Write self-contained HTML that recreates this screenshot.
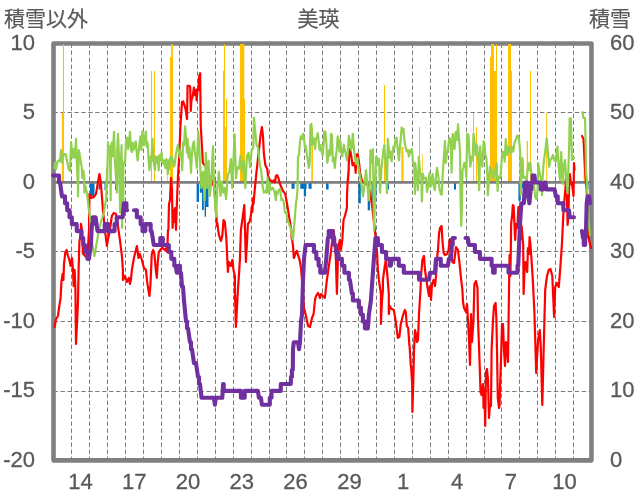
<!DOCTYPE html>
<html><head><meta charset="utf-8"><style>
html,body{margin:0;padding:0;background:#fff;}
body{width:636px;height:501px;position:relative;overflow:hidden;font-family:"Liberation Sans","Noto Sans CJK JP",sans-serif;color:#595959;}
svg{position:absolute;left:0;top:0;}
.t{position:absolute;white-space:nowrap;line-height:1;}
.yl,.yr,.xl{-webkit-text-stroke:0.3px #595959;}
.t{-webkit-text-stroke:0.2px #595959;}
.yl{position:absolute;right:601px;font-size:22px;line-height:24px;text-align:right;}
.yr{position:absolute;left:610px;font-size:22px;line-height:24px;}
.xl{position:absolute;top:469.7px;width:40px;text-align:center;font-size:22px;line-height:24px;}
</style></head><body>
<svg width="636" height="501" viewBox="0 0 636 501">
<g stroke="#7a7a7a" stroke-width="1" fill="none"><line x1="53.5" y1="112.5" x2="591.45" y2="112.5" stroke-dasharray="4.4 2.55"/><line x1="53.5" y1="251.5" x2="591.45" y2="251.5" stroke-dasharray="4.4 2.55"/><line x1="53.5" y1="321.5" x2="591.45" y2="321.5" stroke-dasharray="4.4 2.55"/><line x1="53.5" y1="391.5" x2="591.45" y2="391.5" stroke-dasharray="4.4 2.55"/><line x1="71.5" y1="43.5" x2="71.5" y2="460.35" stroke-dasharray="4.4 2.6"/><line x1="89.5" y1="43.5" x2="89.5" y2="460.35" stroke-dasharray="4.4 2.6"/><line x1="107.5" y1="43.5" x2="107.5" y2="460.35" stroke-dasharray="4.4 2.6"/><line x1="125.5" y1="43.5" x2="125.5" y2="460.35" stroke-dasharray="4.4 2.6"/><line x1="143.5" y1="43.5" x2="143.5" y2="460.35" stroke-dasharray="4.4 2.6"/><line x1="161.5" y1="43.5" x2="161.5" y2="460.35" stroke-dasharray="4.4 2.6"/><line x1="179.5" y1="43.5" x2="179.5" y2="460.35" stroke-dasharray="4.4 2.6"/><line x1="197.5" y1="43.5" x2="197.5" y2="460.35" stroke-dasharray="4.4 2.6"/><line x1="215.5" y1="43.5" x2="215.5" y2="460.35" stroke-dasharray="4.4 2.6"/><line x1="233.5" y1="43.5" x2="233.5" y2="460.35" stroke-dasharray="4.4 2.6"/><line x1="251.5" y1="43.5" x2="251.5" y2="460.35" stroke-dasharray="4.4 2.6"/><line x1="269.5" y1="43.5" x2="269.5" y2="460.35" stroke-dasharray="4.4 2.6"/><line x1="286.5" y1="43.5" x2="286.5" y2="460.35" stroke-dasharray="4.4 2.6"/><line x1="304.5" y1="43.5" x2="304.5" y2="460.35" stroke-dasharray="4.4 2.6"/><line x1="322.5" y1="43.5" x2="322.5" y2="460.35" stroke-dasharray="4.4 2.6"/><line x1="340.5" y1="43.5" x2="340.5" y2="460.35" stroke-dasharray="4.4 2.6"/><line x1="358.5" y1="43.5" x2="358.5" y2="460.35" stroke-dasharray="4.4 2.6"/><line x1="376.5" y1="43.5" x2="376.5" y2="460.35" stroke-dasharray="4.4 2.6"/><line x1="394.5" y1="43.5" x2="394.5" y2="460.35" stroke-dasharray="4.4 2.6"/><line x1="412.5" y1="43.5" x2="412.5" y2="460.35" stroke-dasharray="4.4 2.6"/><line x1="430.5" y1="43.5" x2="430.5" y2="460.35" stroke-dasharray="4.4 2.6"/><line x1="448.5" y1="43.5" x2="448.5" y2="460.35" stroke-dasharray="4.4 2.6"/><line x1="466.5" y1="43.5" x2="466.5" y2="460.35" stroke-dasharray="4.4 2.6"/><line x1="484.5" y1="43.5" x2="484.5" y2="460.35" stroke-dasharray="4.4 2.6"/><line x1="501.5" y1="43.5" x2="501.5" y2="460.35" stroke-dasharray="4.4 2.6"/><line x1="519.5" y1="43.5" x2="519.5" y2="460.35" stroke-dasharray="4.4 2.6"/><line x1="537.5" y1="43.5" x2="537.5" y2="460.35" stroke-dasharray="4.4 2.6"/><line x1="555.5" y1="43.5" x2="555.5" y2="460.35" stroke-dasharray="4.4 2.6"/><line x1="573.5" y1="43.5" x2="573.5" y2="460.35" stroke-dasharray="4.4 2.6"/></g>
<rect x="53.5" y="43.5" width="537.95" height="416.85" fill="none" stroke="#808080" stroke-width="4.6" stroke-linejoin="round"/>
<g fill="#FFC000"><rect x="62.9" y="44.0" width="1.1" height="138.4"/><rect x="61.9" y="112.7" width="2.1" height="69.7"/><rect x="151.0" y="71.0" width="1.0" height="111.4"/><rect x="154.0" y="71.0" width="1.0" height="111.4"/><rect x="171.1" y="44.0" width="1.8" height="138.4"/><rect x="169.9" y="57.0" width="3.0" height="125.4"/><rect x="224.0" y="44.0" width="1.0" height="138.4"/><rect x="223.0" y="70.7" width="2.0" height="111.7"/><rect x="223.0" y="127.0" width="4.0" height="55.4"/><rect x="226.0" y="99.0" width="1.0" height="83.4"/><rect x="240.0" y="44.0" width="4.3" height="138.4"/><rect x="243.5" y="99.0" width="1.5" height="83.4"/><rect x="167.3" y="168.0" width="0.7" height="14.4"/><rect x="311.3" y="127.0" width="1.6" height="55.4"/><rect x="348.6" y="168.0" width="1.0" height="14.4"/><rect x="384.0" y="85.0" width="1.0" height="97.4"/><rect x="401.4" y="147.0" width="2.1" height="35.4"/><rect x="419.0" y="127.0" width="1.0" height="55.4"/><rect x="422.3" y="154.0" width="0.7" height="28.4"/><rect x="473.0" y="113.0" width="1.0" height="69.4"/><rect x="476.0" y="127.0" width="1.0" height="55.4"/><rect x="490.0" y="57.0" width="4.0" height="125.4"/><rect x="491.0" y="44.0" width="3.0" height="138.4"/><rect x="494.0" y="71.0" width="3.0" height="111.4"/><rect x="496.0" y="44.0" width="1.0" height="138.4"/><rect x="508.0" y="44.0" width="3.0" height="138.4"/><rect x="511.0" y="71.0" width="1.0" height="111.4"/><rect x="526.7" y="141.0" width="1.3" height="41.4"/><rect x="530.0" y="71.0" width="1.0" height="111.4"/><rect x="546.2" y="113.0" width="1.0" height="69.4"/><rect x="583.6" y="150.0" width="1.4" height="32.4"/></g>
<g fill="#0070C0"><rect x="90.0" y="182.4" width="4.5" height="13.6"/><rect x="98.5" y="182.4" width="1.5" height="7.1"/><rect x="104.5" y="182.4" width="1.0" height="7.6"/><rect x="115.0" y="182.4" width="1.0" height="7.6"/><rect x="196.6" y="182.4" width="2.4" height="19.6"/><rect x="199.8" y="182.4" width="2.2" height="10.3"/><rect x="202.0" y="182.4" width="1.8" height="27.6"/><rect x="204.6" y="182.4" width="1.4" height="34.3"/><rect x="206.0" y="182.4" width="2.5" height="24.6"/><rect x="266.0" y="182.4" width="4.7" height="6.4"/><rect x="269.0" y="182.4" width="2.0" height="5.6"/><rect x="291.5" y="182.4" width="3.1" height="6.4"/><rect x="300.3" y="182.4" width="6.3" height="6.4"/><rect x="303.8" y="182.4" width="2.2" height="14.0"/><rect x="308.5" y="182.4" width="3.1" height="6.4"/><rect x="326.0" y="182.4" width="2.6" height="7.1"/><rect x="358.3" y="182.4" width="2.5" height="20.9"/><rect x="367.7" y="182.4" width="2.3" height="27.9"/><rect x="371.5" y="182.4" width="1.9" height="20.6"/><rect x="375.3" y="182.4" width="1.2" height="14.0"/><rect x="387.9" y="182.4" width="1.1" height="7.1"/><rect x="454.0" y="182.4" width="2.0" height="7.2"/><rect x="518.4" y="182.4" width="2.4" height="18.2"/><rect x="522.0" y="182.4" width="1.0" height="5.6"/><rect x="587.5" y="182.4" width="1.0" height="6.6"/></g>
<line x1="53.5" y1="182.4" x2="591.45" y2="182.4" stroke="#7f7f7f" stroke-width="2.8"/>
<g fill="none" stroke="#FF0000" stroke-width="2.2" stroke-linejoin="round" stroke-linecap="round"><polyline points="54.60,327.00 56.00,319.00 58.00,316.00 59.00,307.90 60.60,297.90 61.40,281.90 62.60,273.90 63.40,279.90 64.00,263.90 65.40,252.00 66.60,250.00 68.00,256.00 69.40,260.00 70.60,265.90 72.00,258.00 73.00,269.90 73.60,285.90 74.60,269.90 75.40,287.90 76.00,343.90 78.00,301.90 78.60,269.90 79.40,242.00 80.60,234.00 81.00,223.90 82.00,230.00 83.00,253.80 85.00,255.80 87.40,257.80 89.00,229.90 89.40,194.00 91.00,197.90 94.00,196.90 96.00,194.00 98.00,182.00 99.40,174.00 100.50,180.00 101.90,195.90 102.90,209.90 104.90,229.90 106.90,245.80 107.90,239.90 109.90,229.90 111.90,215.90 113.90,212.90 115.90,213.90 117.90,225.90 119.90,239.90 121.90,255.80 122.90,269.80 122.90,279.90 124.90,275.90 126.90,281.90 128.90,277.90 129.90,283.90 130.90,279.90 131.90,269.90 133.90,258.00 135.90,250.00 136.90,246.00 138.50,258.00 139.90,254.00 141.90,260.00 143.90,267.90 145.90,269.90 147.20,281.90 148.40,289.90 149.40,295.90 150.40,285.90 151.80,254.00 153.20,250.00 154.40,254.00 155.80,269.90 156.80,277.90 157.80,261.90 158.80,252.00 160.80,249.00 162.80,248.00 164.80,250.00 166.40,248.00 167.20,252.00 168.00,230.00 168.40,230.00 169.00,204.00 170.00,200.00 171.00,178.00 172.00,190.00 172.60,228.00 173.40,210.00 174.20,222.00 175.00,208.00 176.00,230.00 177.00,200.00 178.00,176.00 179.00,160.00 180.50,125.00 182.00,102.10 183.20,101.50 184.50,105.30 185.80,110.30 187.00,119.10 187.60,85.80 189.50,85.80 190.20,87.00 190.80,110.90 191.40,100.30 192.70,96.50 193.90,87.70 194.90,95.20 195.80,90.20 196.70,100.30 197.50,88.90 198.30,90.20 199.20,76.40 200.20,73.20 200.70,125.10 201.90,145.20 202.80,162.80 203.80,164.00 206.20,167.20 208.50,171.90 210.50,181.50 211.70,184.70 213.30,179.90 214.90,195.90 215.50,200.00 215.70,207.10 216.50,216.70 216.90,226.00 217.30,223.10 218.90,234.90 220.90,240.90 222.30,235.90 223.50,220.00 224.90,222.00 226.30,237.90 227.90,271.90 228.90,261.90 230.90,265.90 232.30,259.90 233.50,269.90 234.90,275.90 234.90,290.00 235.90,326.90 237.90,290.00 238.90,275.90 239.90,259.90 240.90,230.00 242.90,216.00 244.30,205.00 244.90,226.00 245.90,261.90 246.90,243.90 247.90,224.00 249.50,222.00 250.90,216.00 251.70,207.10 252.30,212.00 253.30,197.50 253.50,204.00 254.90,187.90 256.50,171.90 259.20,147.70 260.40,136.40 261.90,127.00 262.90,135.20 263.90,154.00 265.40,165.30 267.30,169.10 268.20,177.50 269.20,178.30 270.10,180.70 270.80,180.70 272.40,181.50 272.60,181.90 274.50,180.00 275.00,182.30 275.80,176.30 277.00,175.00 278.30,177.50 279.50,182.50 281.40,187.60 283.30,191.40 285.20,193.90 286.40,200.20 287.50,206.40 288.30,211.50 289.20,217.80 290.20,222.80 291.50,231.60 291.60,237.90 292.20,239.90 293.00,245.90 293.80,257.90 294.00,257.90 295.40,253.90 296.00,251.90 297.00,250.90 298.00,254.90 299.60,259.90 301.00,267.90 302.00,279.90 304.00,308.00 306.00,316.00 308.00,325.90 310.00,326.90 312.00,318.00 313.60,314.00 315.00,300.00 316.00,296.00 318.00,293.00 320.00,298.00 321.00,294.00 322.90,296.00 324.90,298.00 326.90,279.90 328.90,265.90 330.90,251.90 332.30,239.90 333.50,230.00 334.90,239.90 335.90,259.90 336.90,293.80 337.90,259.90 338.90,243.90 339.90,239.90 340.90,249.90 342.30,239.90 343.50,220.00 344.90,216.00 346.90,208.00 347.00,195.20 347.60,182.60 348.60,170.00 349.10,155.30 350.10,149.00 351.30,156.50 352.60,165.30 353.80,162.80 355.10,166.60 355.70,172.90 356.40,155.30 357.60,154.00 358.90,161.50 360.10,172.90 362.00,181.00 364.00,182.60 366.00,184.00 368.00,185.00 370.00,192.00 372.00,205.00 373.50,218.00 374.90,230.00 376.90,249.90 377.90,269.90 378.90,279.90 380.90,293.80 380.90,323.90 381.90,302.00 382.90,290.00 382.90,279.90 384.80,265.90 385.80,259.90 387.40,275.90 388.80,293.80 388.80,314.00 389.80,306.00 390.80,308.00 391.80,309.00 393.80,310.00 395.80,321.90 396.80,329.90 397.80,337.90 399.40,336.90 400.80,323.90 402.80,316.00 404.80,310.00 405.80,312.00 406.80,325.90 408.20,327.90 409.40,345.90 409.60,346.00 410.80,365.90 411.00,366.00 412.20,383.80 412.40,412.00 413.20,385.00 414.00,350.00 415.00,330.00 416.00,334.00 417.00,342.00 418.00,340.00 419.00,314.00 420.00,298.00 420.60,288.00 421.00,276.00 422.40,260.00 424.00,256.00 425.00,270.00 427.00,284.00 428.00,290.00 429.00,296.00 430.00,286.00 431.00,300.00 432.00,284.00 433.60,280.00 435.00,286.00 436.00,276.00 437.00,258.00 438.00,250.00 439.00,234.00 440.00,228.00 441.60,226.00 442.40,240.00 443.60,253.00 445.00,255.00 447.00,254.00 448.40,251.00 450.00,239.00 451.00,252.00 452.40,262.00 454.00,263.00 456.00,247.00 458.00,250.00 459.60,264.00 461.00,278.00 462.40,290.00 463.00,302.00 464.00,308.00 466.00,312.00 467.00,304.00 468.00,320.00 469.00,340.00 470.00,365.00 471.00,314.00 472.00,342.00 473.50,320.00 474.40,284.00 476.00,281.00 477.50,288.00 478.00,320.00 479.00,346.00 480.00,375.00 480.50,392.00 481.60,395.00 483.00,384.00 483.60,408.00 484.40,390.00 485.20,426.00 486.00,372.00 487.00,369.00 488.00,380.00 489.00,418.00 490.00,404.00 491.00,406.00 491.60,350.00 493.00,320.00 494.00,306.00 495.60,303.00 496.40,320.00 497.00,350.00 497.80,398.00 499.00,408.00 499.60,405.00 500.00,388.00 501.00,360.00 502.00,324.00 503.00,324.00 504.00,350.00 505.00,366.00 506.00,342.00 507.00,346.00 508.00,362.00 509.00,290.00 509.60,255.00 510.40,276.00 511.20,223.00 512.20,215.00 512.80,205.00 513.60,206.00 514.40,223.00 515.20,240.00 516.00,224.00 517.30,228.00 518.40,207.00 519.50,225.00 520.80,239.00 521.60,226.00 522.40,235.00 523.20,245.00 523.60,294.00 524.50,270.00 525.40,262.00 526.50,268.00 527.20,272.00 528.00,248.00 529.00,254.00 529.60,237.00 530.50,245.00 532.60,276.00 534.40,312.00 536.20,373.00 538.00,341.00 539.80,330.00 540.80,348.00 542.30,405.00 543.70,348.00 545.20,290.00 547.00,276.00 548.70,270.00 550.50,269.00 552.30,276.00 554.10,317.00 555.20,287.00 557.00,283.00 558.80,287.00 560.20,269.00 561.20,255.00 562.10,241.00 563.40,213.00 564.40,200.00 565.30,190.00 566.00,178.00 566.80,190.00 567.60,225.00 568.40,215.00 569.00,190.00 569.80,174.00 571.00,184.00 571.80,183.00 572.80,190.00 573.50,196.00 574.00,163.00 574.50,170.00"/><polyline points="582.00,136.00 583.50,139.00 585.00,168.00 586.00,183.00 586.70,190.00 587.70,228.00 589.00,240.00 590.00,244.00 591.00,248.00"/></g>
<g fill="none" stroke="#92D050" stroke-width="2.2" stroke-linejoin="round" stroke-linecap="round"><polyline points="54.30,167.80 54.90,162.80 56.10,169.10 57.40,161.50 58.70,160.30 59.90,161.50 61.20,150.20 62.10,162.80 63.10,156.50 64.30,154.00 65.60,154.00 66.20,156.50 67.50,162.80 68.70,169.10 70.00,170.90 71.20,142.00 72.10,152.70 73.10,157.70 74.10,148.90 75.00,157.70 76.00,138.90 76.90,164.00 77.90,185.40 78.00,196.40 78.80,150.20 79.40,152.70 80.70,161.50 81.70,166.50 82.30,177.90 83.20,170.30 84.20,175.30 84.30,192.60 85.10,185.40 86.80,192.60 87.80,200.20 88.70,209.00 90.00,216.50 90.60,235.40 94.50,256.00 98.20,234.10 100.00,225.30 101.90,219.00 103.80,212.70 105.10,205.20 106.30,197.60 107.10,167.80 107.20,180.00 108.00,142.60 109.00,151.40 109.90,146.40 110.70,200.20 110.90,150.20 111.70,142.60 112.70,156.50 114.00,131.90 114.90,161.50 115.90,175.30 117.00,192.60 117.20,151.40 118.00,133.80 119.00,157.70 120.20,212.70 120.30,179.10 121.60,145.20 122.10,227.80 122.40,160.30 123.30,212.70 123.40,164.00 125.00,162.80 126.00,141.40 127.30,137.60 128.10,148.90 129.00,142.60 130.00,131.90 131.00,150.20 131.90,152.10 132.80,142.60 133.80,149.60 134.80,145.20 135.70,141.40 136.60,151.40 137.60,160.30 138.60,151.40 139.50,143.90 140.30,136.40 141.40,150.20 142.40,131.30 143.20,138.90 143.90,145.20 144.90,137.60 145.80,131.30 146.60,146.40 147.60,142.60 148.60,160.30 149.50,170.30 150.40,156.50 151.40,161.50 152.40,138.90 153.30,157.70 154.20,165.30 154.90,170.30 155.80,156.50 156.70,162.80 157.70,156.50 158.70,170.30 159.60,155.20 160.50,160.30 161.50,152.70 162.50,161.50 163.40,164.00 164.20,160.30 165.30,167.80 166.30,159.00 167.10,164.00 167.80,174.10 168.40,160.30 169.30,169.10 170.30,157.70 171.30,156.50 172.20,157.70 173.10,161.50 174.10,166.50 175.10,161.50 175.90,154.00 176.80,150.20 177.80,145.20 178.80,150.20 179.70,157.70 180.60,151.40 181.60,155.20 182.20,170.30 183.10,142.60 184.10,145.20 185.10,126.30 186.00,136.40 186.90,152.70 187.60,138.90 188.50,157.70 189.40,147.70 190.20,157.70 191.00,172.80 191.90,154.00 192.90,145.20 193.80,141.40 194.80,151.40 195.70,157.70 196.70,167.80 197.70,145.20 198.30,131.30 199.20,145.20 199.80,159.20 201.40,187.90 203.00,171.90 204.60,200.70 205.80,152.80 206.90,187.90 208.50,160.80 209.80,195.90 211.40,179.90 213.00,146.40 214.10,187.90 215.30,207.10 216.20,216.70 217.30,187.90 218.90,171.90 220.50,195.90 221.80,181.50 222.90,192.70 224.50,187.90 226.10,199.10 227.70,175.10 229.30,171.90 230.90,159.20 232.20,187.90 233.30,164.00 234.60,134.00 236.00,178.30 237.30,167.20 238.90,168.80 240.50,156.00 242.10,171.90 243.70,160.80 245.30,187.90 246.90,156.00 248.50,152.80 250.10,167.20 251.70,149.60 253.30,148.00 253.90,117.50 256.50,144.80 258.10,148.00 259.70,164.00 261.30,171.90 262.50,185.10 263.80,192.60 265.10,191.40 266.30,192.60 267.60,177.50 268.60,192.60 269.50,182.50 270.70,190.10 272.60,187.60 274.50,191.40 275.80,200.20 276.60,191.40 277.60,193.90 278.90,190.10 280.20,188.80 281.40,200.20 282.40,198.90 283.70,201.40 284.60,210.20 285.20,212.70 286.40,212.70 287.50,220.30 288.70,222.80 289.60,225.30 290.60,227.80 291.70,234.10 292.70,239.20 293.40,235.40 294.00,227.80 295.00,215.30 295.90,203.90 296.80,197.60 297.50,190.10 298.00,156.50 299.00,155.20 300.00,141.40 300.80,136.40 302.10,138.90 303.00,133.80 304.00,138.90 305.00,147.70 305.90,146.40 306.80,155.20 307.80,160.30 308.80,167.80 309.70,161.50 310.50,125.00 311.30,123.80 312.20,145.20 313.10,137.60 314.10,138.90 315.10,148.90 315.90,138.90 316.80,137.60 317.80,133.20 318.80,142.60 319.70,150.20 320.60,145.20 321.60,151.40 322.60,155.20 323.50,145.20 324.40,131.30 325.40,131.90 326.40,143.90 327.30,162.80 328.10,157.70 329.20,150.20 330.20,155.20 331.00,133.80 331.90,135.10 332.90,161.50 333.90,157.70 334.80,167.80 335.70,157.70 336.70,150.20 337.70,136.40 338.60,141.40 339.50,151.40 340.00,140.20 340.50,142.60 341.30,151.50 341.50,152.70 342.30,156.50 342.40,155.20 343.60,147.70 343.80,144.60 345.00,150.20 346.00,155.30 346.90,160.30 347.80,152.70 348.80,135.80 349.80,140.20 351.10,150.20 351.90,146.40 352.80,133.90 353.80,146.40 354.80,156.50 356.10,164.10 357.40,157.80 358.60,167.80 360.20,177.50 361.40,183.80 363.00,196.40 364.00,188.90 365.20,177.50 366.00,170.00 367.70,188.90 369.00,200.20 370.00,180.00 370.40,150.20 371.40,151.50 372.20,162.80 373.00,149.00 373.40,190.00 374.00,230.40 374.70,207.70 375.30,182.60 376.20,156.50 377.10,157.80 377.70,165.00 379.00,159.00 380.00,192.60 381.30,170.30 382.50,159.00 383.40,150.20 384.30,145.20 385.00,155.00 385.90,165.30 386.90,193.30 387.80,138.90 389.70,157.80 390.60,151.50 391.60,161.50 392.60,152.70 393.50,146.40 394.30,149.00 395.30,141.40 396.60,137.60 397.60,147.70 398.90,160.30 399.70,150.20 400.60,140.20 401.60,127.60 402.60,132.60 403.50,128.80 404.40,140.20 405.40,146.40 406.70,151.50 407.90,150.20 408.90,156.50 409.90,150.20 411.10,152.70 411.90,149.00 413.00,162.80 414.20,165.30 415.00,194.00 415.20,162.80 415.60,168.00 416.90,175.00 417.80,190.20 418.80,156.50 419.50,165.00 420.00,172.00 421.30,175.40 421.90,201.50 422.80,173.80 423.80,178.00 425.00,179.00 426.00,177.60 427.00,192.00 428.20,185.00 429.50,172.90 430.30,187.00 431.30,185.00 432.60,174.00 433.90,187.00 434.90,190.20 435.80,178.00 437.00,167.80 438.30,176.00 439.50,189.00 440.80,194.00 441.70,194.60 442.70,175.00 443.30,165.30 445.00,140.80 445.80,162.80 447.00,152.70 448.00,150.20 449.00,140.20 450.00,138.30 450.90,145.20 451.50,172.60 452.70,133.90 453.70,142.70 454.60,149.00 455.50,132.60 456.50,131.40 457.30,140.20 458.00,124.40 459.00,137.60 460.00,151.50 460.50,197.70 461.20,226.00 461.80,210.00 462.50,170.00 463.40,167.50 464.30,163.00 465.30,162.80 466.30,178.00 467.20,133.90 468.50,135.00 469.30,152.70 470.30,166.60 471.60,156.50 472.60,160.30 473.50,133.90 474.40,140.20 475.40,155.30 476.40,144.00 477.30,147.70 478.10,157.80 479.20,190.20 480.20,146.40 481.00,159.00 482.30,166.60 483.60,141.40 484.40,144.00 485.40,155.30 486.40,157.80 487.30,174.00 487.80,195.20 489.00,180.00 490.00,166.70 491.70,170.00 493.30,178.30 495.00,173.30 496.70,163.30 497.60,191.00 498.30,176.70 500.00,178.30 500.80,173.30 502.00,155.00 503.30,151.70 504.70,161.70 505.80,139.00 507.00,155.00 508.30,146.70 509.70,153.30 510.80,150.00 512.00,146.70 513.30,151.70 514.70,141.70 515.80,140.00 517.00,135.80 518.30,135.80 519.30,141.70 520.30,155.00 520.80,195.00 521.30,166.70 522.50,158.30 523.30,178.30 525.00,176.70 526.70,180.00 528.30,163.30 529.70,170.00 530.30,162.50 531.30,173.30 532.50,178.30 533.80,183.90 535.10,196.40 536.40,199.00 537.60,190.00 538.30,163.30 539.70,173.30 540.80,178.30 542.00,195.20 542.50,180.00 543.70,161.70 545.00,153.30 546.70,138.30 548.00,153.30 549.20,166.70 550.30,160.00 551.70,158.30 553.00,155.00 554.20,160.00 555.80,161.70 557.50,146.70 558.70,166.70 560.00,180.00 561.20,152.00 562.00,170.00 562.80,184.00 563.80,165.00 565.00,160.00 566.20,178.00 567.60,193.50 568.50,165.00 569.20,145.60 569.70,118.30 570.80,118.30 572.00,160.00 573.00,156.00 574.00,158.00"/><polyline points="582.40,112.00 583.50,118.00 585.00,118.00 585.60,140.00 586.00,170.00 587.00,184.00 587.70,203.00 589.00,225.40 590.00,235.00"/></g>
<g fill="none" stroke="#7030A0" stroke-width="4.1" stroke-linejoin="round" stroke-linecap="round"><polyline points="53.00,175.50 58.00,175.50 59.00,175.50 59.00,182.45 60.00,182.45 62.00,196.35 64.00,196.35 65.00,196.35 65.00,203.29 66.00,203.29 67.17,203.29 67.17,210.24 69.50,210.24 69.50,217.19 71.83,217.19 71.83,224.14 73.00,224.14 75.50,224.14 76.75,224.14 76.75,231.08 78.00,231.08 80.50,231.08 81.45,231.08 81.45,238.03 82.40,238.03 83.28,238.03 83.28,244.98 85.03,244.98 85.03,251.93 85.90,251.93 87.40,251.93 87.40,258.87 88.90,258.87 90.90,244.98 91.90,224.14 92.85,224.14 92.85,217.19 93.80,217.19 95.60,217.19 97.50,231.08 99.40,231.08 101.90,231.08 103.80,231.08 104.75,231.08 104.75,224.14 105.70,224.14 107.60,224.14 108.20,224.14 108.20,231.08 108.80,231.08 110.70,231.08 113.30,231.08 114.55,231.08 114.55,224.14 115.80,224.14 116.75,224.14 116.75,217.19 117.70,217.19 120.20,217.19 122.70,217.19 123.90,203.29 125.80,203.29 126.45,203.29 126.45,210.24 127.10,210.24"/><polyline points="134.00,210.24 135.90,210.24 136.85,210.24 136.85,217.19 137.80,217.19 139.70,217.19 140.65,217.19 140.65,224.14 141.60,224.14 142.50,224.14 142.50,231.08 143.40,231.08 144.70,231.08 145.35,231.08 145.35,224.14 146.00,224.14 147.80,224.14 149.70,224.14 150.65,224.14 150.65,231.08 151.60,231.08 153.80,244.98 158.80,244.98 160.30,244.98 160.30,238.03 161.80,238.03 162.80,238.03 162.80,244.98 163.80,244.98 167.80,244.98 168.80,244.98 168.80,251.93 169.80,251.93 171.30,251.93 171.30,258.87 172.80,258.87 174.30,258.87 174.30,265.82 175.80,265.82 176.80,272.77 178.40,272.77 178.40,265.82 180.00,265.82 180.00,272.77 181.00,272.77 182.00,286.66 183.00,286.66 184.00,300.56 186.00,321.40 187.00,321.40 187.00,328.35 188.00,328.35 190.00,342.24 191.00,342.24 191.00,349.19 192.00,349.19 194.00,363.09 196.00,363.09 198.00,376.98 199.00,376.98 199.00,383.93 200.00,383.93 201.50,397.82 203.90,397.82 213.90,397.82 214.90,404.77 215.90,397.82 222.30,397.82 223.10,383.93 223.70,383.93 223.70,390.88 224.30,390.88 239.90,390.88 240.90,390.88 240.90,397.82 241.90,397.82 243.90,397.82 244.70,397.82 244.70,390.88 245.50,390.88 257.90,390.88 258.90,397.82 260.90,397.82 261.90,404.77 268.80,404.77 269.80,404.77 269.80,397.82 270.80,397.82 271.50,397.82 271.50,390.88 272.20,390.88 279.80,390.88 280.80,390.88 280.80,383.93 281.80,383.93 290.00,383.93 290.80,383.93 291.00,376.98 291.90,376.98 291.90,370.03 292.80,370.03 293.00,349.19 293.80,342.24 295.00,342.24 297.00,342.24 298.00,342.24 299.00,349.19 300.00,342.24 301.00,321.40 302.00,314.45 303.00,279.72 304.00,258.87 305.60,244.98 308.00,244.98 311.00,244.98 313.00,244.98 314.00,244.98 314.00,251.93 315.00,251.93 316.30,251.93 316.30,258.87 317.60,258.87 318.60,258.87 318.60,265.82 319.60,265.82 320.30,265.82 320.30,272.77 321.00,272.77 324.90,272.77 326.30,258.87 327.90,238.03 328.70,238.03 328.70,231.08 329.50,231.08 331.90,231.08 332.70,231.08 332.70,238.03 333.50,238.03 334.20,238.03 334.20,244.98 334.90,244.98 335.90,244.98 335.90,251.93 336.90,251.93 337.90,251.93 337.90,258.87 338.90,258.87 340.90,258.87 341.90,258.87 341.90,265.82 342.90,265.82 344.40,265.82 344.40,272.77 345.90,272.77 347.90,272.77 348.90,272.77 348.90,279.72 349.90,279.72 351.90,293.61 352.90,293.61 352.90,300.56 353.90,300.56 357.90,300.56 358.90,300.56 358.90,307.50 359.90,307.50 360.90,307.50 360.90,314.45 361.90,314.45 362.90,314.45 362.90,321.40 363.90,321.40 364.90,321.40 364.90,328.35 365.90,328.35 367.90,328.35 368.90,314.45 369.90,307.50 370.90,300.56 371.90,286.66 373.90,258.87 375.50,238.03 376.90,238.03 377.90,238.03 377.90,244.98 378.90,244.98 380.90,244.98 381.90,244.98 381.90,251.93 382.90,251.93 385.40,251.93 386.10,251.93 386.10,258.87 386.80,258.87 388.80,258.87 389.80,258.87 389.80,265.82 390.80,265.82 391.80,258.87 397.80,258.87 398.80,258.87 398.80,265.82 399.80,265.82 402.80,265.82 403.80,265.82 403.80,272.77 404.80,272.77 410.00,272.77 417.00,272.77 418.00,272.77 419.00,272.77 419.00,279.72 420.00,279.72 429.00,279.72 430.00,272.77 435.00,272.77 436.00,258.87 440.00,258.87 440.75,258.87 440.75,265.82 441.50,265.82 447.90,265.82 448.90,258.87 450.90,258.87 451.90,244.98 452.70,244.98 452.70,238.03 453.50,238.03 454.90,238.03"/><polyline points="465.50,238.03 467.90,238.03 468.90,244.98 473.90,244.98 474.90,244.98 474.90,251.93 475.90,251.93 478.90,251.93 479.90,251.93 479.90,258.87 480.90,258.87 490.90,258.87 491.60,258.87 491.60,265.82 492.30,265.82 493.10,265.82 493.10,272.77 493.90,272.77 494.70,272.77 494.70,265.82 495.50,265.82 507.80,265.82 508.50,265.82 508.50,272.77 509.20,272.77 516.80,272.77 517.50,272.77 517.50,265.82 518.20,265.82 520.00,224.14 521.30,203.29 523.80,203.29 525.00,182.45 526.30,182.45 527.20,182.45 528.20,196.35 529.40,203.29 530.70,189.40 531.35,189.40 531.35,182.45 532.00,182.45 532.60,182.45 532.60,175.50 533.20,175.50 534.50,175.50 535.10,182.45 540.10,182.45 540.75,182.45 540.75,189.40 541.40,189.40 543.50,189.40 544.50,182.45 545.50,182.45 546.40,189.40 553.30,189.40 554.60,189.40 555.80,196.35 557.10,196.35 557.75,196.35 557.75,203.29 558.40,203.29 559.60,203.29 561.50,203.29 562.80,203.29 563.40,203.29 563.40,210.24 564.00,210.24 565.30,210.24 567.20,210.24 569.00,210.24 569.70,217.19 571.00,217.19 574.00,217.19"/><polyline points="582.00,231.08 583.00,238.03 583.75,238.03 583.75,244.98 584.50,244.98 585.15,244.98 585.15,238.03 585.80,238.03 586.70,203.29 587.70,196.35 589.00,196.35 590.00,203.29"/></g>
</svg>
<div class="t" style="left:4px;top:8.3px;font-size:21px;">積雪以外</div>
<div class="t" style="left:297.5px;top:7.6px;font-size:21px;">美瑛</div>
<div class="t" style="left:589px;top:7.8px;font-size:21px;">積雪</div>
<div class="yl" style="top:30.9px">10</div><div class="yl" style="top:100.4px">5</div><div class="yl" style="top:169.8px">0</div><div class="yl" style="top:239.3px">-5</div><div class="yl" style="top:308.8px">-10</div><div class="yl" style="top:378.3px">-15</div><div class="yl" style="top:447.8px">-20</div><div class="yr" style="top:30.9px">60</div><div class="yr" style="top:100.4px">50</div><div class="yr" style="top:169.8px">40</div><div class="yr" style="top:239.3px">30</div><div class="yr" style="top:308.8px">20</div><div class="yr" style="top:378.3px">10</div><div class="yr" style="top:447.8px">0</div><div class="xl" style="left:60.4px">14</div><div class="xl" style="left:114.2px">17</div><div class="xl" style="left:168.0px">20</div><div class="xl" style="left:221.8px">23</div><div class="xl" style="left:275.6px">26</div><div class="xl" style="left:329.4px">29</div><div class="xl" style="left:383.2px">1</div><div class="xl" style="left:437.0px">4</div><div class="xl" style="left:490.8px">7</div><div class="xl" style="left:544.6px">10</div>
</body></html>
